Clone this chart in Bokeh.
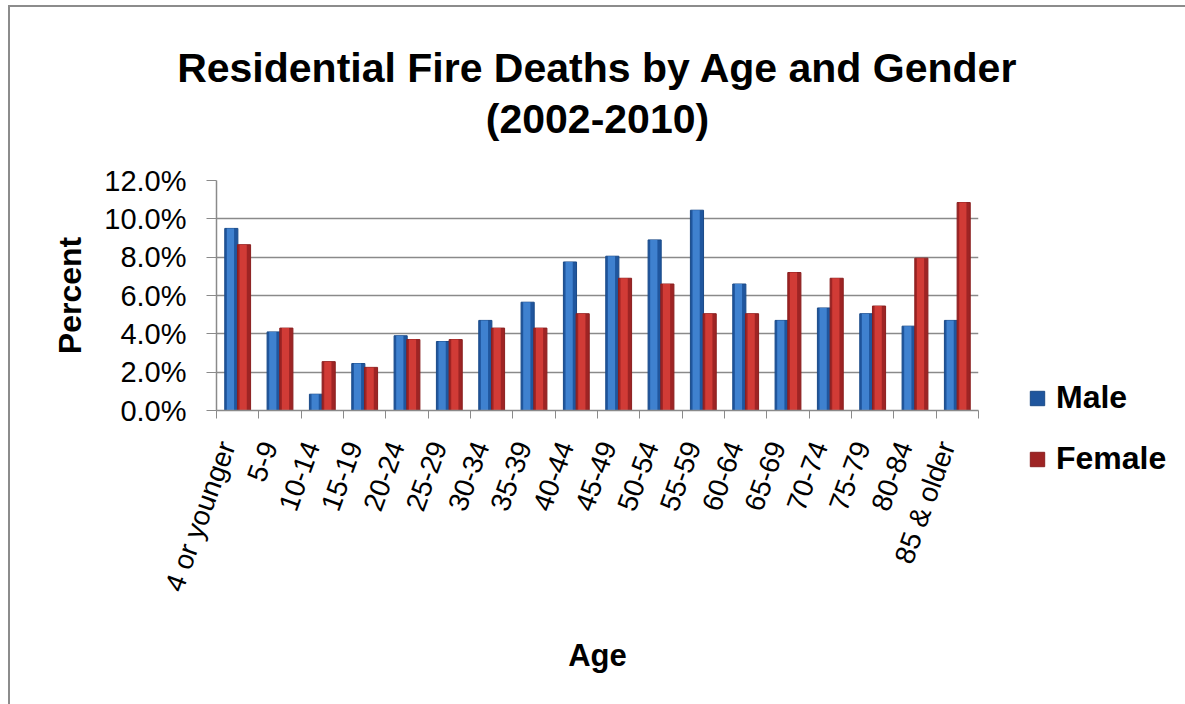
import math
import numpy as np
from bokeh.plotting import figure
from bokeh.models import FixedTicker, PrintfTickFormatter, Legend, LegendItem, Range1d
from bokeh.embed import file_html
from bokeh.resources import INLINE

ages = ["4 or younger", "5-9", "10-14", "15-19", "20-24", "25-29", "30-34", "35-39",
        "40-44", "45-49", "50-54", "55-59", "60-64", "65-69", "70-74", "75-79",
        "80-84", "85 & older"]
male = [9.5, 4.1, 0.85, 2.45, 3.9, 3.6, 4.7, 5.65, 7.75, 8.05, 8.9, 10.45, 6.6, 4.7,
        5.35, 5.05, 4.4, 4.7]
female = [8.65, 4.3, 2.55, 2.25, 3.7, 3.7, 4.3, 4.3, 5.05, 6.9, 6.6, 5.05, 5.05, 7.2,
          6.9, 5.45, 7.95, 10.85]
y_ticks = [0, 2, 4, 6, 8, 10, 12]

FONT = "Liberation Sans"
GRAY = "#8a8a8a"
n = len(ages)
x = np.arange(n)

W, H = 1185, 704
p = figure(frame_width=762, frame_height=230, output_backend="svg", toolbar_location=None,
           x_range=Range1d(-0.5, n - 0.5), y_range=Range1d(0, 12),
           min_border_left=216, min_border_right=W - 978, min_border_top=180,
           min_border_bottom=H - 410)
p.border_fill_color = None
p.background_fill_color = "white"
p.styles = {
    "background-color": "white",
    "background-image": "linear-gradient(#8c8c8c, #8c8c8c), linear-gradient(#8c8c8c, #8c8c8c)",
    "background-size": "calc(100% - 8px) 2px, 2px calc(100% - 5px)",
    "background-position": "8px 5px, 8px 5px",
    "background-repeat": "no-repeat",
}

bw = 0.31
off = 0.15
male_r = p.vbar(x=x - off, top=male, bottom=0, width=bw, fill_color="#1f569e",
                line_color="#1a4a88", line_width=1)
p.vbar(x=x - off - 0.02, top=male, bottom=0, width=bw * 0.55, fill_color="#3f81cf",
       line_color=None)
female_r = p.vbar(x=x + off, top=female, bottom=0, width=bw, fill_color="#9e2424",
                  line_color="#8a1f1f", line_width=1)
p.vbar(x=x + off - 0.02, top=female, bottom=0, width=bw * 0.55, fill_color="#d13b36",
       line_color=None)

# labels sit slightly left of each category centre, as in the original
lab_pos = [float(i) - 0.25 for i in x]
xa = p.xaxis[0]
xa.ticker = FixedTicker(ticks=lab_pos, minor_ticks=[i - 0.5 for i in range(n + 1)])
xa.major_label_overrides = {lp: a for lp, a in zip(lab_pos, ages)}
xa.major_label_orientation = math.radians(70)
xa.major_tick_out = 0
xa.major_tick_in = 0
xa.minor_tick_out = 8
xa.minor_tick_in = 0
xa.minor_tick_line_color = GRAY
xa.axis_line_color = GRAY
xa.axis_line_width = 1.5
xa.major_label_text_font = FONT
xa.major_label_text_font_size = "28px"
xa.major_label_text_color = "black"
xa.major_label_standoff = 24
xa.axis_label = "Age"
xa.axis_label_text_font = FONT
xa.axis_label_text_font_size = "31px"
xa.axis_label_text_font_style = "bold"
xa.axis_label_text_color = "black"
xa.axis_label_standoff = 34

ya = p.yaxis[0]
ya.ticker = FixedTicker(ticks=y_ticks)
ya.formatter = PrintfTickFormatter(format="%.1f%%")
ya.major_tick_out = 10
ya.major_tick_in = 0
ya.minor_tick_line_color = None
ya.major_tick_line_color = GRAY
ya.axis_line_color = GRAY
ya.axis_line_width = 1.5
ya.major_label_text_font = FONT
ya.major_label_text_font_size = "29px"
ya.major_label_text_color = "black"
ya.major_label_standoff = 20
ya.axis_label = "Percent"
ya.axis_label_text_font = FONT
ya.axis_label_text_font_size = "32px"
ya.axis_label_text_font_style = "bold"
ya.axis_label_text_color = "black"
ya.axis_label_standoff = 13

p.xgrid.grid_line_color = None
p.ygrid.ticker = FixedTicker(ticks=y_ticks)
p.ygrid.grid_line_color = GRAY
p.ygrid.grid_line_width = 1.5
p.outline_line_color = None

p.title.text = "Residential Fire Deaths by Age and Gender\n(2002-2010)"
p.title.align = "center"
p.title.text_align = "center"
p.title.text_font = FONT
p.title.text_font_size = "41px"
p.title.text_font_style = "bold"
p.title.text_color = "black"
p.title.text_line_height = 1.1
p.title.standoff = 77

legend = Legend(items=[LegendItem(label="Male", renderers=[male_r]),
                       LegendItem(label="Female", renderers=[female_r])],
                location=(50, -67), orientation="vertical")
legend.margin = 0
legend.padding = 0
legend.border_line_color = None
legend.background_fill_alpha = 0
legend.glyph_width = 18
legend.glyph_height = 18
legend.label_height = 32
legend.spacing = 24
legend.label_standoff = 10
legend.label_text_font = FONT
legend.label_text_font_size = "32px"
legend.label_text_font_style = "bold"
legend.label_text_color = "black"
p.add_layout(legend, "right")

open("out.html", "w").write(file_html(p, INLINE))
